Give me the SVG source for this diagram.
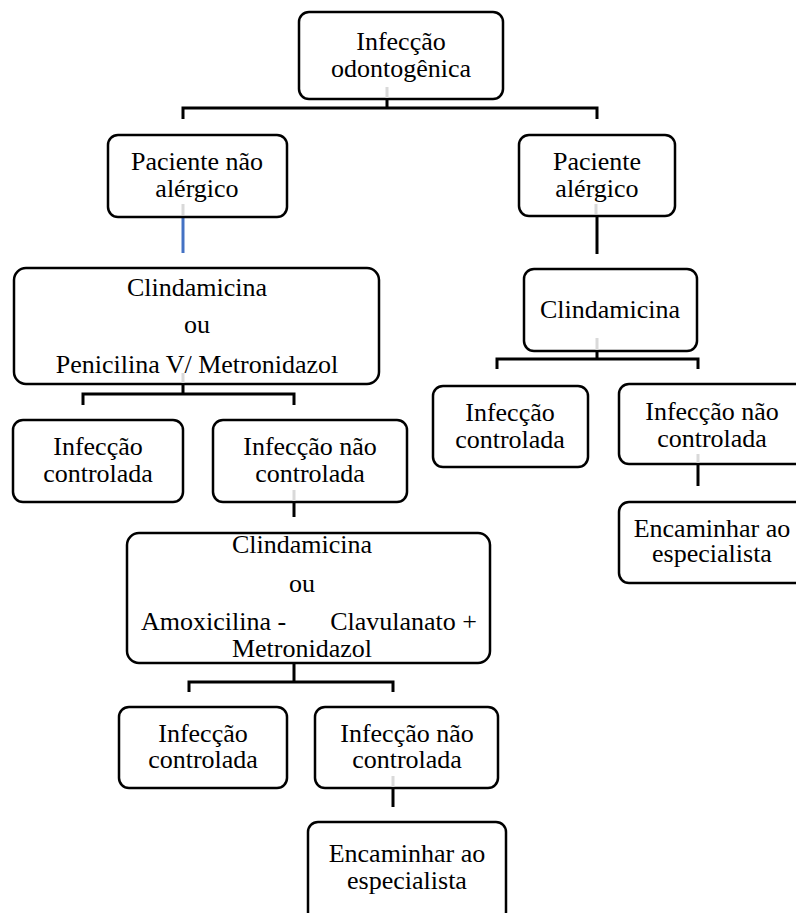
<svg xmlns="http://www.w3.org/2000/svg" width="796" height="913" viewBox="0 0 796 913">
<style>
.box{fill:#fff;stroke:#000;stroke-width:2.5}
.t{font-family:"Liberation Serif","Times New Roman",serif;font-size:26px;fill:#000;text-anchor:middle}
.c{stroke:#000;stroke-width:3;fill:none}
.g{stroke:#d9d9d9;stroke-width:3;fill:none}
</style>
<rect width="796" height="913" fill="#fff"/>
<g id="connectors">
<path class="c" d="M387 99V108M183 119V108H597V119"/>
<path stroke="#4472C4" stroke-width="3" fill="none" d="M183 217V253"/>
<path class="c" d="M597 216V254"/>
<path class="c" d="M183 384V394M83 405V394H294V405"/>
<path class="c" d="M294 503V517"/>
<path class="c" d="M294 663V682M189 692V682H393V692"/>
<path class="c" d="M393 788V807"/>
<path class="c" d="M597 351V359M497 369V359H698V369"/>
<path class="c" d="M698 464V486"/>
</g>
<g id="n1"><rect class="box" x="299" y="12" width="204" height="87" rx="10"/><path class="g" d="M387 87V98"/><text class="t" x="401" y="50">Infecção</text><text class="t" x="401" y="77">odontogênica</text></g>
<g id="n2"><rect class="box" x="108" y="135" width="179" height="82" rx="10"/><path class="g" d="M183 204V215"/><text class="t" x="197" y="170">Paciente não</text><text class="t" x="197" y="197">alérgico</text></g>
<g id="n3"><rect class="box" x="519" y="135" width="156" height="81" rx="10"/><path class="g" d="M596 204V214"/><text class="t" x="597" y="170">Paciente</text><text class="t" x="597" y="197">alérgico</text></g>
<g id="n4"><rect class="box" x="14" y="268" width="365" height="116" rx="12"/><path class="g" d="M183 373V383"/><text class="t" x="197" y="296">Clindamicina</text><text class="t" x="197" y="333">ou</text><text class="t" x="197" y="373">Penicilina V/ Metronidazol</text></g>
<g id="n5"><rect class="box" x="13" y="420" width="170" height="82" rx="10"/><text class="t" x="98" y="455">Infecção</text><text class="t" x="98" y="482">controlada</text></g>
<g id="n6"><rect class="box" x="213" y="420" width="194" height="82" rx="10"/><path class="g" d="M294 490V501"/><text class="t" x="310" y="455">Infecção não</text><text class="t" x="310" y="482">controlada</text></g>
<g id="n7"><rect class="box" x="127" y="533" width="363" height="130" rx="12"/><text class="t" x="302" y="553">Clindamicina</text><text class="t" x="302" y="592">ou</text><text class="t" x="141" y="630" style="text-anchor:start">Amoxicilina -</text><text class="t" x="477" y="630" style="text-anchor:end">Clavulanato +</text><text class="t" x="302" y="657">Metronidazol</text></g>
<g id="n8"><rect class="box" x="119" y="707" width="168" height="81" rx="10"/><text class="t" x="203" y="742">Infecção</text><text class="t" x="203" y="768">controlada</text></g>
<g id="n9"><rect class="box" x="315" y="707" width="183" height="81" rx="10"/><path class="g" d="M393 776V787"/><text class="t" x="407" y="742">Infecção não</text><text class="t" x="407" y="768">controlada</text></g>
<g id="n10"><rect class="box" x="308" y="822" width="198" height="100" rx="10"/><text class="t" x="407" y="862">Encaminhar ao</text><text class="t" x="407" y="889">especialista</text></g>
<g id="n11"><rect class="box" x="524" y="269" width="173" height="82" rx="10"/><path class="g" d="M597 338V350"/><text class="t" x="610" y="318">Clindamicina</text></g>
<g id="n12"><rect class="box" x="433" y="386" width="155" height="81" rx="10"/><text class="t" x="510" y="421">Infecção</text><text class="t" x="510" y="448">controlada</text></g>
<g id="n13"><rect class="box" x="619" y="384" width="200" height="80" rx="10"/><path class="g" d="M698 454V463"/><text class="t" x="712" y="420">Infecção não</text><text class="t" x="712" y="447">controlada</text></g>
<g id="n14"><rect class="box" x="619" y="502" width="200" height="81" rx="10"/><text class="t" x="712" y="537">Encaminhar ao</text><text class="t" x="712" y="562">especialista</text></g>
</svg>
